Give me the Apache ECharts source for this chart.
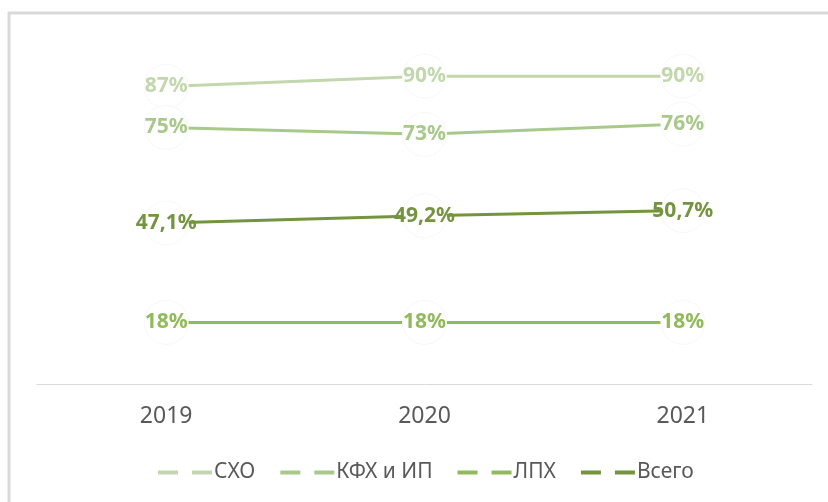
<!DOCTYPE html>
<html>
<head>
<meta charset="utf-8">
<script src="https://cdn.jsdelivr.net/npm/echarts@6/dist/echarts.min.js"></script>
<style>
  html, body { margin: 0; padding: 0; background: #fff; }
  #container { width: 828px; height: 502px; }
</style>
</head>
<body>
<div id="container"></div>
<script>
var years = ['2019', '2020', '2021'];
var names = ['СХО', 'КФХ и ИП', 'ЛПХ', 'Всего'];
var sxo = [87, 90, 90];
var kfh = [75, 73, 76];
var lph = [18, 18, 18];
var total = [47.1, 49.2, 50.7];
var colors = ['#c3d7ae', '#a8c98b', '#91ba5b', '#74943f'];

var dom = document.getElementById('container');
var chart = echarts.init(dom, null, { renderer: 'canvas' });

function makeSeries(name, data, color) {
    return {
        name: name,
        type: 'line',
        data: data,
        symbol: 'circle',
        symbolSize: 44,
        itemStyle: { color: '#fff', borderColor: '#f7f7f7', borderWidth: 1 },
        lineStyle: { color: color, width: 3 },
        label: {
            show: true,
            position: 'inside',
            color: color,
            fontFamily: 'Noto Sans',
            fontWeight: 'bold',
            fontSize: 21,
            formatter: function (p) {
                return String(p.value).replace('.', ',') + '%';
            }
        },
        emphasis: { disabled: true },
        animation: false
    };
}

var dashIcon = 'path://M0,0H20V4H0Z M34,0H54V4H34Z';

var option = {
    color: colors,
    graphic: [
        { type: 'line', shape: { x1: 8, y1: 13, x2: 828, y2: 13 }, style: { stroke: '#d9d9d9', lineWidth: 3 } },
        { type: 'line', shape: { x1: 9, y1: 12, x2: 9, y2: 502 }, style: { stroke: '#d9d9d9', lineWidth: 3 } }
    ],
    grid: { left: 37, right: 16, top: 42, bottom: 118 },
    legend: {
        data: names.map(function (n, i) {
            return {
                name: n,
                icon: dashIcon,
                itemStyle: { color: colors[i], borderWidth: 0, opacity: 1 },
                lineStyle: { width: 0 }
            };
        }),
        left: 153,
        top: 457,
        itemWidth: 54,
        itemHeight: 4,
        itemGap: 25,
        textStyle: { color: '#595959', fontFamily: 'Noto Sans', fontSize: 21, padding: [0, 0, 0, -3] }
    },
    xAxis: {
        type: 'category',
        data: years,
        axisLine: { lineStyle: { color: '#d9d9d9', width: 1 } },
        axisTick: { show: false },
        axisLabel: { color: '#595959', fontFamily: 'Noto Sans', fontSize: 23, margin: 21 }
    },
    yAxis: {
        type: 'value',
        min: 0,
        max: 100,
        show: false,
        splitLine: { show: false }
    },
    series: [
        makeSeries(names[0], sxo, colors[0]),
        makeSeries(names[1], kfh, colors[1]),
        makeSeries(names[2], lph, colors[2]),
        makeSeries(names[3], total, colors[3])
    ]
};

chart.setOption(option);
window.addEventListener('resize', chart.resize);
</script>
</body>
</html>
